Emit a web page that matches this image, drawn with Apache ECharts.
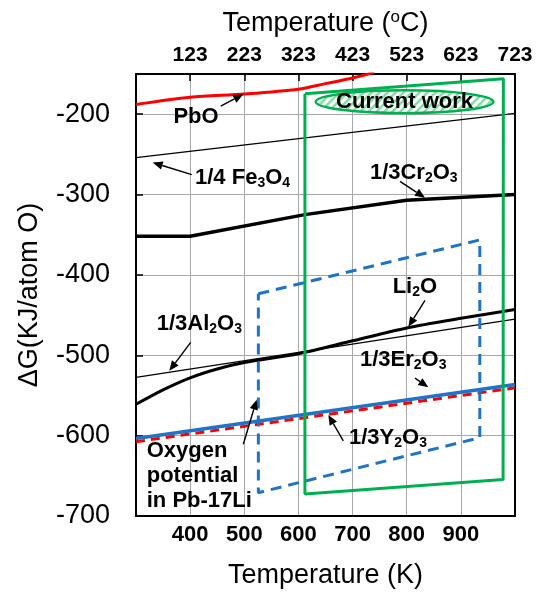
<!DOCTYPE html>
<html><head><meta charset="utf-8">
<script src="https://cdn.jsdelivr.net/npm/echarts@6/dist/echarts.min.js"></script>
<style>html,body{margin:0;padding:0;background:#fff}#c{width:544px;height:594px}</style>
</head><body><div id="c"></div>
<script>
// ---- data ----
const kTickLabels = {400:'400',500:'500',600:'600',700:'700',800:'800',900:'900'};
const cTickLabels = {400:'123',500:'223',600:'323',700:'423',800:'523',900:'623',1000:'723'};
const yTickLabels = [-700,-600,-500,-400,-300,-200];

const pbo    = [[300,-188],[400,-179],[500,-175],[600,-169],[650,-162],[700,-155],[740,-148]];
const fe3o4  = [[300,-254],[1000,-199]];
const cr2o3  = [[300,-352],[400,-352],[612,-325],[800,-307],[1000,-300]];
const al2o3  = [[300,-527.5],[1000,-455]];
const li2o   = [[300,-561],[350,-543],[400,-528],[450,-517],[500,-509],[600,-498],[700,-482],[800,-466],[900,-454],[1000,-443]];
const y2o3   = [[300,-603.5],[1000,-536.5]];
const er2o3  = [[300,-607.5],[1000,-540.5]];
const pbLiOxygen  = [[526,-423.5],[935,-356.5],[935,-602.5],[526,-671],[526,-423.5]];
const currentWork = [[612,-174.5],[978.5,-156],[978,-654.7],[612,-672.5],[612,-174.5]];

// annotation placement (in data coordinates)
const notes = [
  {text:'PbO', at:[410.8,-203.7], align:'center', arrow:[[456.4,-190.1],[498.2,-175.3]]},
  {text:'1/4 Fe{s|3}O{s|4}', at:[409,-279], align:'left', arrow:[[402.9,-275.3],[330.8,-260.1]]},
  {text:'1/3Cr{s|2}O{s|3}', at:[732,-272.8], align:'left', arrow:[[787.6,-283.6],[833.8,-304.1]]},
  {text:'Li{s|2}O', at:[774,-414.8], align:'left', arrow:[[833.8,-431.7],[803,-464.6]]},
  {text:'1/3Er{s|2}O{s|3}', at:[713.7,-505.8], align:'left', arrow:[[815.3,-528.4],[839.9,-539.9]]},
  {text:'1/3Y{s|2}O{s|3}', at:[693.4,-602.5], align:'left', arrow:[[682.9,-606.5],[655.2,-574.3]]},
  {text:'1/3Al{s|2}O{s|3}', at:[338.2,-461.4], align:'left', arrow:[[401,-484],[361.5,-519.4]]},
  {text:'Oxygen\npotential\nin Pb-17Li', at:[319.8,-618.5], align:'left', multi:true, arrow:[[498.2,-610.7],[522.9,-555.2]]},
];
const ellipseNote = {text:'Current work', center:[796,-184.5], rx:164, ry:14.2};

// ---- chart ----
const FONT = '"Liberation Sans", Arial, sans-serif';
const GREEN = '#00b050', BLUE = '#1f73c8', RED = '#ff0000';
const chart = echarts.init(document.getElementById('c'));

function ln(data, color, width, extra) {
  return Object.assign({type:'line', data, symbol:'none', silent:true, animation:false,
    lineStyle:{color, width}}, extra || {});
}

const gridColor = '#a8a8a8';
chart.setOption({
  animation:false,
  grid:{left:136, right:29, top:74, bottom:74},
  xAxis:[{
    type:'value', position:'bottom', min:300, max:1000, interval:100,
    axisLine:{show:true, onZero:false, lineStyle:{color:'#000', width:2}},
    axisTick:{show:false},
    splitLine:{show:true, lineStyle:{color:gridColor, width:1}},
    axisLabel:{formatter:v=>kTickLabels[v]||'', fontFamily:FONT, fontSize:22, fontWeight:'bold', color:'#000', margin:8},
    name:'Temperature (K)', nameLocation:'middle', nameGap:46,
    nameTextStyle:{fontFamily:FONT, fontSize:27, color:'#000'}
  },{
    type:'value', position:'top', min:300, max:1000, interval:100,
    axisLine:{show:true, onZero:false, lineStyle:{color:'#000', width:2}},
    axisTick:{show:true, inside:true, length:7, lineStyle:{color:'#000', width:1.5}},
    splitLine:{show:false},
    axisLabel:{formatter:v=>cTickLabels[v]||'', fontFamily:FONT, fontSize:21, fontWeight:'bold', color:'#000', margin:8, showMaxLabel:true},
    name:'{a|Temperature (}{s|o}{a|C)}', nameLocation:'middle', nameGap:35,
    nameTextStyle:{rich:{a:{fontFamily:FONT, fontSize:27, color:'#000', lineHeight:30},
                         s:{fontFamily:FONT, fontSize:17, color:'#000', lineHeight:20, verticalAlign:'top'}}}
  }],
  yAxis:[{
    type:'value', position:'left', min:-700, max:-150, interval:100,
    axisLine:{show:true, onZero:false, lineStyle:{color:'#000', width:2}},
    axisTick:{show:true, inside:true, length:7, lineStyle:{color:'#000', width:1.5}},
    splitLine:{show:true, lineStyle:{color:gridColor, width:1}},
    axisLabel:{formatter:v=>yTickLabels.indexOf(v)>=0?String(v):'', fontFamily:FONT, fontSize:27, color:'#000', margin:26, showMaxLabel:false},
    name:'ΔG(KJ/atom O)', nameLocation:'middle', nameGap:93,
    nameTextStyle:{fontFamily:FONT, fontSize:27, color:'#000'}
  },{
    type:'value', position:'right', min:-700, max:-150, interval:100,
    axisLine:{show:true, onZero:false, lineStyle:{color:'#000', width:2}},
    axisTick:{show:false}, axisLabel:{show:false}, splitLine:{show:false}
  }],
  series:[
    ln(fe3o4, '#000', 1.2),
    ln(al2o3, '#000', 1.2),
    ln(pbo, RED, 3, {smooth:0.3}),
    ln(cr2o3, '#000', 3.5),
    ln(li2o, '#000', 3, {smooth:0.3}),
    ln(er2o3, RED, 3, {lineStyle:{color:RED, width:3, type:[9,6]}}),
    ln(y2o3, BLUE, 3.5),
    ln(pbLiOxygen, BLUE, 3, {lineStyle:{color:BLUE, width:3, type:[11,7]}}),
    ln(currentWork, GREEN, 3)
  ]
});

// ---- annotations (placed through the chart's own coordinate conversion) ----
function px(p){ return chart.convertToPixel({gridIndex:0}, p); }
const subRich = {s:{fontFamily:FONT, fontSize:14, fontWeight:'bold', fill:'#000', lineHeight:10, verticalAlign:'bottom'}};
const g = [];
notes.forEach(n=>{
  const p = px(n.at);
  if (n.multi) {
    n.text.split('\n').forEach((t,i)=>{
      g.push({type:'text', x:p[0], y:p[1]+i*25, z:50, style:{text:t, fontFamily:FONT, fontSize:22, fontWeight:'bold', fill:'#000', align:n.align, verticalAlign:'middle'}});
    });
  } else {
    g.push({type:'text', x:p[0], y:p[1], z:50, style:{text:n.text, rich:subRich, fontFamily:FONT, fontSize:22, fontWeight:'bold', fill:'#000', lineHeight:24, align:n.align, verticalAlign:'middle'}});
  }
  const a = px(n.arrow[0]), b = px(n.arrow[1]);
  const dx=b[0]-a[0], dy=b[1]-a[1], L=Math.hypot(dx,dy), ux=dx/L, uy=dy/L;
  const hl=10, hw=4.2;
  const bx=b[0]-ux*hl, by=b[1]-uy*hl;
  g.push({type:'line', z:50, shape:{x1:a[0], y1:a[1], x2:bx, y2:by}, style:{stroke:'#000', lineWidth:1.4}});
  g.push({type:'polygon', z:50, shape:{points:[[b[0],b[1]],[bx-uy*hw, by+ux*hw],[bx+uy*hw, by-ux*hw]]}, style:{fill:'#000'}});
});
// hatched ellipse
const S = 8;
const pc = document.createElement('canvas'); pc.width=S; pc.height=S;
const cx = pc.getContext('2d'); cx.fillStyle='#fff'; cx.fillRect(0,0,S,S);
cx.strokeStyle='#8bdca6'; cx.lineWidth=2.6;
cx.beginPath(); cx.moveTo(-1,S+1); cx.lineTo(S+1,-1); cx.moveTo(-2,2); cx.lineTo(2,-2); cx.moveTo(S-2,S+2); cx.lineTo(S+2,S-2); cx.stroke();
const ec = px(ellipseNote.center);
const er = px([ellipseNote.center[0]+ellipseNote.rx, ellipseNote.center[1]-ellipseNote.ry]);
g.push({type:'ellipse', z:40, shape:{cx:ec[0], cy:ec[1], rx:er[0]-ec[0], ry:er[1]-ec[1]},
        style:{fill:{image:pc, repeat:'repeat'}, stroke:GREEN, lineWidth:2.5}});
g.push({type:'text', z:50, x:ec[0], y:ec[1], style:{text:ellipseNote.text, fontFamily:FONT, fontSize:22, fontWeight:'bold', fill:'#000', align:'center', verticalAlign:'middle'}});
chart.setOption({graphic:g});
</script></body></html>
